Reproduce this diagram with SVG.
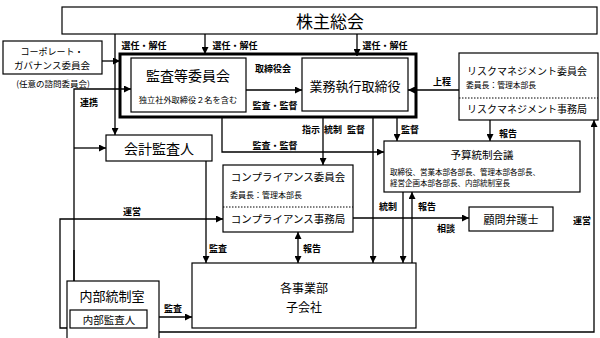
<svg xmlns="http://www.w3.org/2000/svg" width="600" height="338" viewBox="0 0 600 338">
<defs>
<style>
.bx{fill:#fff;stroke:#000;stroke-width:1.2}
.thick{fill:none;stroke:#000;stroke-width:3}
.ln{fill:none;stroke:#000;stroke-width:1.3}
.dot{stroke:#000;stroke-width:1;stroke-dasharray:1.5 1.5}
text{font-family:"Noto Sans CJK JP","Noto Sans",sans-serif;fill:#000;dominant-baseline:central}
.t{text-anchor:middle}
.lb{font-weight:bold;font-size:9px}
</style>
<marker id="ah" viewBox="0 0 10 10" refX="10" refY="5" markerWidth="7" markerHeight="7" markerUnits="userSpaceOnUse" orient="auto-start-reverse"><path d="M0,0 L10,5 L0,10 z" fill="#000"/></marker>
</defs>
<rect width="600" height="338" fill="#fff"/>

<g id="connectors">
<path class="ln" d="M115,34 V135" marker-end="url(#ah)"/>
<path class="ln" d="M205,34 V54" marker-end="url(#ah)"/>
<path class="ln" d="M357,34 V56" marker-end="url(#ah)"/>
<path class="ln" d="M102,61 H120" marker-end="url(#ah)"/>
<path class="ln" d="M74,310 V89 H131" marker-end="url(#ah)"/>
<path class="ln" d="M74,148 H106" marker-end="url(#ah)"/>
<path class="ln" d="M246,90 H302" marker-end="url(#ah)"/>
<path class="ln" d="M459,90 H408" marker-end="url(#ah)"/>
<path class="ln" d="M74,250 V310" marker-end="url(#ah)"/>
<path class="ln" d="M222,117 V152 H384" marker-end="url(#ah)"/>
<path class="ln" d="M323,117 V165" marker-end="url(#ah)"/>
<path class="ln" d="M373,117 V263" marker-end="url(#ah)"/>
<path class="ln" d="M397,117 V141" marker-end="url(#ah)"/>
<path class="ln" d="M490,120 V141" marker-end="url(#ah)"/>
<path class="ln" d="M206,161 V263" marker-end="url(#ah)"/>
<path class="ln" d="M298,232 V263" marker-start="url(#ah)" marker-end="url(#ah)"/>
<path class="ln" d="M403,192 V263" marker-end="url(#ah)"/>
<path class="ln" d="M412,263 V192" marker-end="url(#ah)"/>
<path class="ln" d="M353,218 H469" marker-end="url(#ah)"/>
<path class="ln" d="M67,328 H60 V219 H223" marker-end="url(#ah)"/>
<path class="ln" d="M159,332 H594 V120" marker-end="url(#ah)"/>
<path class="ln" d="M147,317 H192" marker-end="url(#ah)"/>
<text class="lb" x="144" y="45" text-anchor="middle">選任・解任</text>
<text class="lb" x="235" y="45" text-anchor="middle">選任・解任</text>
<text class="lb" x="385" y="45" text-anchor="middle">選任・解任</text>
<text class="lb" x="273" y="68" text-anchor="middle" font-size="10">取締役会</text>
<text class="lb" x="275" y="105" text-anchor="middle" font-size="10">監査・監督</text>
<text class="lb" x="442" y="81" text-anchor="middle" font-size="10">上程</text>
<text class="lb" x="89" y="102" text-anchor="middle">連携</text>
<text class="lb" x="311" y="129" text-anchor="middle">指示</text>
<text class="lb" x="333" y="129" text-anchor="middle">統制</text>
<text class="lb" x="356" y="129" text-anchor="middle">監督</text>
<text class="lb" x="410" y="129" text-anchor="middle">監督</text>
<text class="lb" x="508" y="133" text-anchor="middle">報告</text>
<text class="lb" x="275" y="145" text-anchor="middle">監査・監督</text>
<text class="lb" x="132" y="211" text-anchor="middle">運営</text>
<text class="lb" x="388" y="206" text-anchor="middle">統制</text>
<text class="lb" x="427" y="206" text-anchor="middle">報告</text>
<text class="lb" x="446" y="228" text-anchor="middle">相談</text>
<text class="lb" x="582" y="220" text-anchor="middle">運営</text>
<text class="lb" x="218" y="248" text-anchor="middle">監査</text>
<text class="lb" x="312" y="248" text-anchor="middle">報告</text>
<text class="lb" x="173" y="308" text-anchor="middle">監査</text>
</g>

<g id="shareholders">
<rect class="bx" x="62" y="7" width="535" height="27"/>
<text class="t" x="330" y="20" font-size="17">株主総会</text>
</g>

<g id="corporate-governance">
<rect class="bx" x="3" y="41" width="99" height="33"/>
<text class="t" x="52" y="51" font-size="9">コーポレート・</text>
<text class="t" x="52" y="64.5" font-size="9.5">ガバナンス委員会</text>
<text class="t" x="53" y="83" font-size="8.5">(任意の諮問委員会)</text>
</g>

<g id="board">
<rect class="thick" x="120" y="54" width="296" height="63"/>
</g>

<g id="audit-committee">
<rect class="bx" x="131" y="58" width="115" height="54"/>
<text class="t" x="188" y="75" font-size="14">監査等委員会</text>
<text class="t" x="188" y="99" font-size="8.2">独立社外取締役２名を含む</text>
</g>

<g id="executive-directors">
<rect class="bx" x="302" y="58" width="106" height="53"/>
<text class="t" x="355" y="85" font-size="13">業務執行取締役</text>
</g>

<g id="risk-management">
<rect class="bx" x="459" y="53" width="139" height="67"/>
<text class="t" x="527" y="70" font-size="10">リスクマネジメント委員会</text>
<text x="466" y="84" font-size="7.8">委員長：管理本部長</text>
<line class="dot" x1="459" y1="98" x2="598" y2="98"/>
<text class="t" x="527" y="108" font-size="10">リスクマネジメント事務局</text>
</g>

<g id="accounting-auditor">
<rect class="bx" x="106" y="135" width="106" height="26"/>
<text class="t" x="159" y="148" font-size="14">会計監査人</text>
</g>

<g id="budget-control">
<rect class="bx" x="384" y="141" width="196" height="51"/>
<text class="t" x="482" y="154" font-size="10.5">予算統制会議</text>
<text x="390" y="171.5" font-size="7.5">取締役、営業本部各部長、管理本部各部長、</text>
<text x="390" y="182.5" font-size="7.5">経営企画本部各部長、内部統制室長</text>
</g>

<g id="compliance">
<rect class="bx" x="223" y="165" width="130" height="67"/>
<text class="t" x="288" y="176" font-size="10.5">コンプライアンス委員会</text>
<text x="230" y="194" font-size="8">委員長：管理本部長</text>
<line class="dot" x1="223" y1="207" x2="353" y2="207"/>
<text class="t" x="288" y="218" font-size="10.5">コンプライアンス事務局</text>
</g>

<g id="legal-counsel">
<rect class="bx" x="469" y="207" width="84" height="24"/>
<text class="t" x="511" y="219" font-size="11">顧問弁護士</text>
</g>

<g id="business-units">
<rect class="bx" x="192" y="263" width="224" height="65"/>
<text class="t" x="304" y="287" font-size="12">各事業部</text>
<text class="t" x="304" y="306" font-size="12">子会社</text>
</g>

<g id="internal-control">
<rect class="bx" x="67" y="281" width="92" height="70"/>
<text class="t" x="112" y="295" font-size="13">内部統制室</text>
</g>

<g id="internal-auditor">
<rect class="bx" x="70" y="310" width="77" height="18"/>
<text class="t" x="109" y="319" font-size="10.5">内部監査人</text>
</g>
</svg>
